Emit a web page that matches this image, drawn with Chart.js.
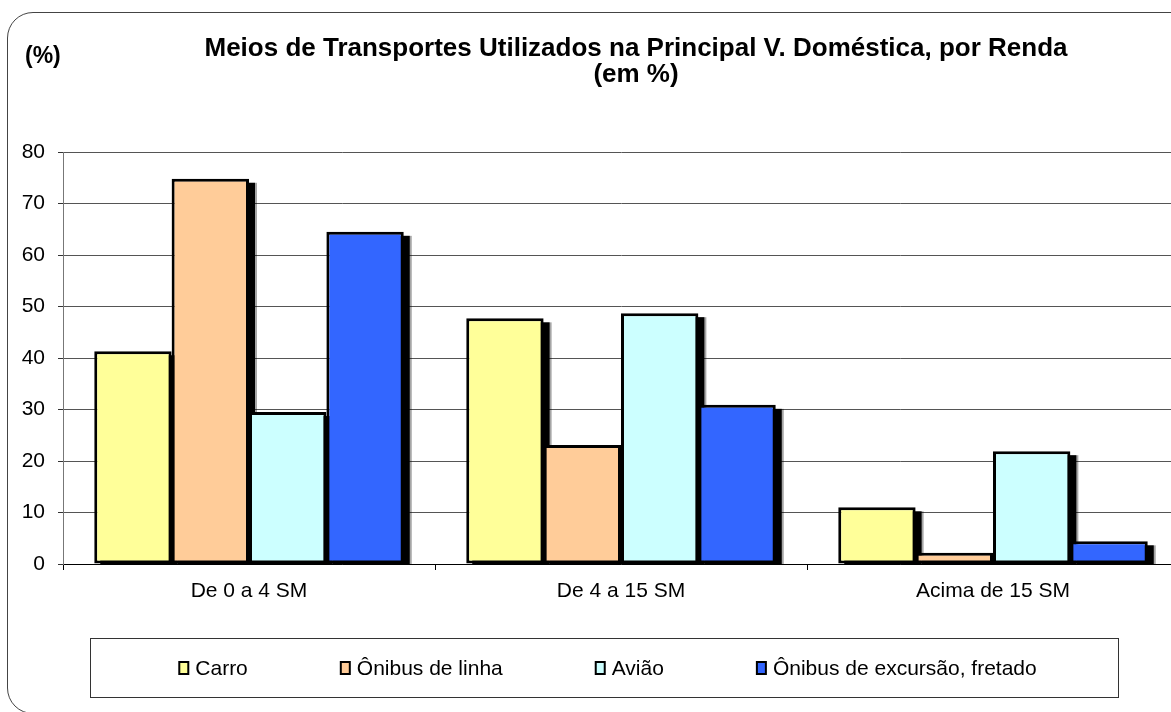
<!DOCTYPE html>
<html>
<head>
<meta charset="utf-8">
<script src="https://cdn.jsdelivr.net/npm/chart.js@4"></script>
<style>
html, body { margin: 0; padding: 0; background: #fff; overflow: hidden; width: 1171px; height: 712px; }
#frame { position: absolute; left: 7px; top: 12px; width: 1220px; height: 700px; border: 1px solid #444; border-radius: 26px; }
#wrap { position: absolute; left: 0; top: 0; width: 1186px; height: 712px; }
</style>
</head>
<body>
<div id="frame"></div>
<div id="wrap"><canvas id="chart" width="1186" height="712"></canvas></div>
<script>
// dados (em %)
const categories = ['De 0 a 4 SM', 'De 4 a 15 SM', 'Acima de 15 SM'];
const seriesNames = ['Carro', 'Ônibus de linha', 'Avião', 'Ônibus de excursão, fretado'];
const carro = [41.3, 47.7, 11.0];
const onibusLinha = [74.8, 23.1, 2.2];
const aviao = [29.5, 48.7, 21.9];
const onibusExcursao = [64.5, 30.9, 4.4];
const yTicks = [0, 10, 20, 30, 40, 50, 60, 70, 80];
const titleLines = ['Meios de Transportes Utilizados na Principal V. Doméstica, por Renda', '(em %)'];
const unitLabel = '(%)';

const colors = ['#FFFF99', '#FFCC99', '#CCFFFF', '#3366FF'];
const FONT = 'Arial, "Liberation Sans", sans-serif';

// sombra preta à direita das barras (estilo Excel)
const barShadow = {
    id: 'barShadow',
    beforeDatasetsDraw(chart) {
        const { ctx, chartArea } = chart;
        ctx.save();
        ctx.beginPath();
        ctx.rect(chartArea.left, chartArea.top, chartArea.right - chartArea.left + 20, chartArea.bottom - chartArea.top);
        ctx.clip();
        chart.data.datasets.forEach((ds, i) => {
            chart.getDatasetMeta(i).data.forEach(bar => {
                const p = bar.getProps(['x', 'y', 'base', 'width'], true);
                const left = p.x - p.width / 2;
                ctx.fillStyle = 'rgba(0,0,0,0.35)';
                ctx.fillRect(left + 7, p.y + 4, p.width + 1, p.base - p.y);
                ctx.fillStyle = '#000';
                ctx.fillRect(left + 6, p.y + 4, p.width, p.base - p.y);
            });
        });
        ctx.restore();
    }
};

// título, unidade e legenda em caixa
const decorations = {
    id: 'decorations',
    afterDraw(chart) {
        const ctx = chart.ctx;
        ctx.save();
        ctx.fillStyle = '#000';
        ctx.textBaseline = 'alphabetic';

        ctx.font = 'bold 26px ' + FONT;
        ctx.textAlign = 'center';
        ctx.fillText(titleLines[0], 636, 56);
        ctx.fillText(titleLines[1], 636, 82);

        ctx.font = 'bold 23px ' + FONT;
        ctx.textAlign = 'left';
        ctx.fillText(unitLabel, 25, 63);

        // legenda
        ctx.strokeStyle = '#333';
        ctx.lineWidth = 1;
        ctx.strokeRect(90.5, 638.5, 1028, 59);

        ctx.font = '21px ' + FONT;
        const boxW = 9, boxH = 12, gapText = 7, gapItem = 93;
        const items = chart.data.datasets.map(ds => ({
            label: ds.label, color: ds.backgroundColor, w: ctx.measureText(ds.label).width
        }));
        const total = items.reduce((s, it) => s + boxW + gapText + it.w, 0) + gapItem * (items.length - 1);
        let x = 608 - total / 2;
        items.forEach(it => {
            ctx.fillStyle = it.color;
            ctx.fillRect(x, 662, boxW, boxH);
            ctx.strokeStyle = '#000';
            ctx.lineWidth = 2;
            ctx.strokeRect(x, 662, boxW, boxH);
            ctx.fillStyle = '#000';
            ctx.fillText(it.label, x + boxW + gapText, 675);
            x += boxW + gapText + it.w + gapItem;
        });
        ctx.restore();
    }
};

const seriesValues = [carro, onibusLinha, aviao, onibusExcursao];

new Chart(document.getElementById('chart'), {
    type: 'bar',
    data: {
        labels: categories,
        datasets: seriesValues.map((vals, i) => ({
            label: seriesNames[i],
            data: vals,
            backgroundColor: colors[i],
            borderColor: '#000',
            borderWidth: 3,
            borderSkipped: false,
            categoryPercentage: 0.832,
            barPercentage: 1.0
        }))
    },
    options: {
        responsive: false,
        animation: false,
        layout: { padding: { left: 0, top: 152, right: 7, bottom: 108 } },
        plugins: {
            legend: { display: false },
            title: { display: false },
            tooltip: { enabled: false }
        },
        scales: {
            x: {
                offset: true,
                grid: { display: true, offset: true, drawOnChartArea: false, tickLength: 6, color: '#000' },
                border: { color: '#000', width: 1 },
                ticks: { color: '#000', padding: 9, font: { family: FONT, size: 21 } },
                afterFit(scale) { scale.height = 40; }
            },
            y: {
                min: 0,
                max: 80,
                afterBuildTicks(scale) { scale.ticks = yTicks.map(v => ({ value: v })); },
                grid: { color: '#555', tickLength: 5, tickColor: '#333' },
                border: { color: '#777', width: 1 },
                ticks: { color: '#000', padding: 13, font: { family: FONT, size: 21 } },
                afterFit(scale) { scale.width = 63; }
            }
        }
    },
    plugins: [barShadow, decorations]
});
</script>
</body>
</html>
